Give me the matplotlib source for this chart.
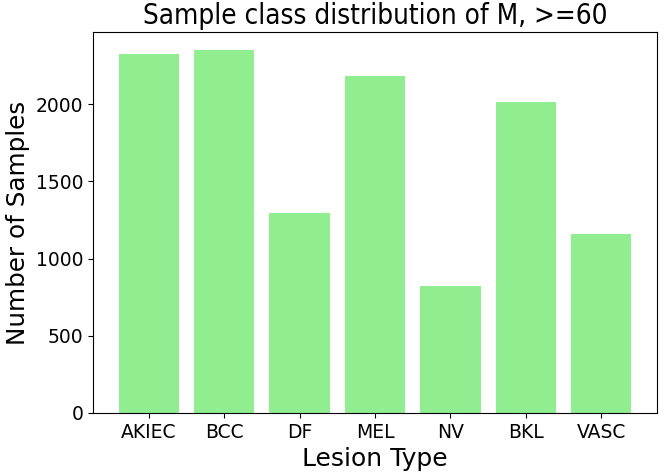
import matplotlib
matplotlib.use("Agg")
import matplotlib.pyplot as plt

categories = ["AKIEC", "BCC", "DF", "MEL", "NV", "BKL", "VASC"]
counts = [2325, 2350, 1298, 2183, 824, 2015, 1160]

fig = plt.figure(figsize=(6.64, 4.76), dpi=100)
ax = fig.add_axes([93/664, 1-413/476, (657-93)/664, (413-32)/476])
ax.bar(categories, counts, color="lightgreen", width=0.8)
ax.set_title("Sample class distribution of M, >=60", fontsize=20, fontstretch="condensed")
ax.set_xlabel("Lesion Type", fontsize=18)
ax.set_ylabel("Number of Samples", fontsize=17.7)
ax.tick_params(labelsize=13.5)
fig.savefig("out.png", dpi=100)
